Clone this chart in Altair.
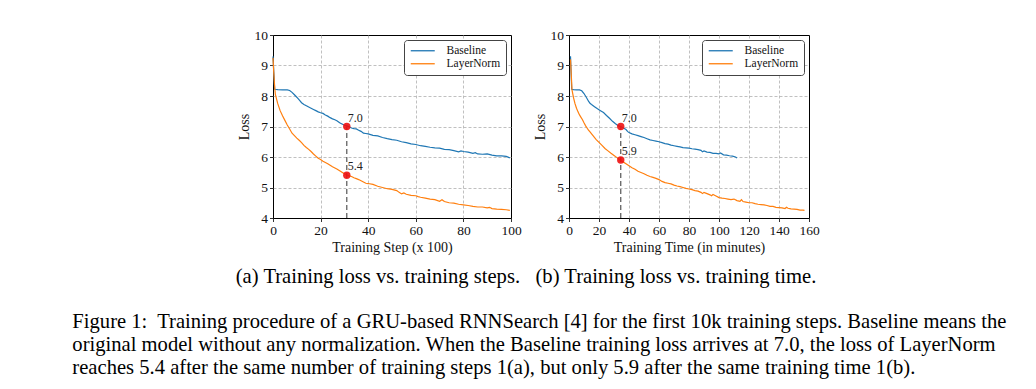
import altair as alt
import pandas as pd

series_names = ["Baseline", "LayerNorm"]
series_colors = ["#1f77b4", "#ff7f0e"]

# (a) loss vs training steps (x 100)
step_base_x = [0, 0.7, 2, 4, 6, 7, 8, 9, 10, 11, 12, 13, 14, 15, 16, 17, 18, 19, 20, 21, 22, 23, 24, 25,
               26, 27, 28, 29, 30, 31, 32, 33, 34, 35, 36, 37, 38, 39, 40, 42, 44, 46, 48, 50, 52, 54, 56,
               58, 60, 62, 64, 66, 68, 70, 72, 74, 76, 78, 79, 80, 82, 84, 85, 86, 88, 90, 92, 94, 96, 98, 99.5]
step_base_y = [9.3, 8.22, 8.21, 8.2, 8.2, 8.18, 8.12, 8.04, 7.96, 7.87, 7.78, 7.72, 7.68, 7.64, 7.60, 7.56,
               7.52, 7.48, 7.45, 7.43, 7.38, 7.34, 7.29, 7.25, 7.22, 7.18, 7.12, 7.08, 7.04, 7.02, 6.99, 6.95,
               6.93, 6.92, 6.88, 6.84, 6.78, 6.77, 6.76, 6.71, 6.69, 6.64, 6.60, 6.57, 6.55, 6.50, 6.47, 6.43,
               6.41, 6.37, 6.35, 6.32, 6.30, 6.29, 6.25, 6.24, 6.21, 6.17, 6.20, 6.18, 6.16, 6.12, 6.14, 6.10,
               6.09, 6.10, 6.06, 6.04, 6.04, 6.02, 5.97]
step_ln_x = [0, 0.3, 0.7, 1, 1.5, 2, 3, 4, 5, 6, 7, 8, 9, 10, 11, 12, 13, 14, 15, 16, 17, 18, 19, 20, 21,
             22, 23, 24, 25, 26, 27, 28, 29, 30, 31, 32, 33, 34, 35, 36, 37, 38, 39, 40, 42, 44, 46, 48, 50,
             52, 53, 54, 55, 56, 58, 60, 61, 62, 64, 66, 68, 70, 71, 72, 74, 76, 78, 80, 82, 84, 86, 88, 90,
             91, 92, 94, 96, 98, 99.5]
step_ln_y = [9.25, 8.8, 8.3, 8.05, 7.9, 7.75, 7.52, 7.35, 7.2, 7.05, 6.92, 6.78, 6.7, 6.62, 6.55, 6.47, 6.38,
             6.31, 6.25, 6.18, 6.1, 6.03, 5.96, 5.92, 5.86, 5.82, 5.78, 5.73, 5.68, 5.64, 5.6, 5.55, 5.5, 5.45,
             5.41, 5.38, 5.36, 5.32, 5.29, 5.26, 5.22, 5.18, 5.14, 5.13, 5.1, 5.04, 5.0, 4.96, 4.94, 4.9, 4.84,
             4.79, 4.82, 4.78, 4.74, 4.73, 4.7, 4.68, 4.65, 4.62, 4.6, 4.55, 4.6, 4.54, 4.5, 4.49, 4.45, 4.43,
             4.41, 4.38, 4.36, 4.36, 4.33, 4.35, 4.31, 4.29, 4.28, 4.27, 4.25]
step_mark_x = 31
step_mark_y = [7.0, 5.4]
step_mark_labels = ["7.0", "5.4"]

# (b) loss vs training time (minutes)
time_base_x = [1, 1.8, 3, 5, 7, 8.5, 10, 11, 12, 13, 14, 15, 17, 19, 21, 23, 25, 27, 29, 31, 33, 34.5, 36,
               38, 39, 40, 42, 44, 46, 48, 50, 52, 54, 56, 58, 60, 62, 64, 66, 68, 70, 72, 74, 76, 78, 80,
               82, 84, 86, 88, 89, 90, 92, 94, 96, 98, 100, 101, 103, 105, 107, 109, 111, 112]
time_base_y = [9.3, 8.22, 8.21, 8.2, 8.2, 8.17, 8.08, 8.0, 7.92, 7.83, 7.76, 7.72, 7.65, 7.58, 7.52, 7.46,
               7.36, 7.27, 7.17, 7.09, 7.02, 7.0, 6.96, 6.9, 6.84, 6.8, 6.76, 6.73, 6.7, 6.67, 6.64, 6.6,
               6.56, 6.54, 6.52, 6.5, 6.47, 6.44, 6.42, 6.39, 6.37, 6.35, 6.33, 6.31, 6.3, 6.29, 6.27, 6.26,
               6.24, 6.22, 6.17, 6.2, 6.16, 6.15, 6.12, 6.12, 6.1, 6.13, 6.07, 6.06, 6.04, 6.03, 6.0, 5.97]
time_ln_x = [1, 1.5, 2, 3, 4, 5, 6, 7, 8, 9, 10, 11, 12, 13, 14, 16, 18, 20, 22, 24, 26, 28, 30, 32, 34,
             36, 38, 40, 42, 44, 46, 48, 50, 52, 54, 56, 58, 60, 62, 64, 66, 68, 70, 72, 74, 76, 78, 80, 82,
             84, 86, 88, 89, 90, 92, 94, 95, 96, 98, 100, 102, 104, 106, 108, 110, 112, 114, 115, 116, 118,
             120, 122, 124, 126, 128, 130, 132, 134, 136, 138, 140, 142, 144, 145, 146, 148, 150, 152, 154,
             156, 157]
time_ln_y = [9.2, 8.7, 8.2, 7.95, 7.75, 7.6, 7.48, 7.38, 7.3, 7.22, 7.12, 7.03, 6.95, 6.88, 6.82, 6.7, 6.58,
             6.48, 6.38, 6.28, 6.2, 6.12, 6.05, 5.98, 5.9, 5.84, 5.78, 5.71, 5.65, 5.6, 5.53, 5.49, 5.45, 5.4,
             5.36, 5.33, 5.3, 5.26, 5.2, 5.16, 5.14, 5.12, 5.08, 5.05, 5.03, 5.0, 4.97, 4.95, 4.93, 4.9, 4.88,
             4.84, 4.8, 4.84, 4.8, 4.76, 4.73, 4.77, 4.72, 4.67, 4.65, 4.64, 4.62, 4.6, 4.62, 4.57, 4.55, 4.6,
             4.54, 4.52, 4.5, 4.5, 4.47, 4.45, 4.44, 4.43, 4.41, 4.38, 4.38, 4.35, 4.34, 4.33, 4.31, 4.35, 4.32,
             4.3, 4.29, 4.28, 4.26, 4.26, 4.25]
time_mark_x = 34.5
time_mark_y = [7.0, 5.9]
time_mark_labels = ["7.0", "5.9"]

y_ticks = [4, 5, 6, 7, 8, 9, 10]
step_ticks = [0, 20, 40, 60, 80, 100]
time_ticks = [0, 20, 40, 60, 80, 100, 120, 140, 160]

caption_ab = "(a) Training loss vs. training steps.\u00a0\u00a0 (b) Training loss vs. training time."
caption_fig = [
    "Figure 1:\u00a0 Training procedure of a GRU-based RNNSearch [4] for the first 10k training steps. Baseline means the",
    "original model without any normalization. When the Baseline training loss arrives at 7.0, the loss of LayerNorm",
    "reaches 5.4 after the same number of training steps 1(a), but only 5.9 after the same training time 1(b).",
]

SERIF = "Liberation Serif"


def panel(bx, by, lx, ly, mx, my, mlabels, xmax, xticks, xtitle, width):
    lines_df = pd.concat([
        pd.DataFrame({"x": bx, "loss": by, "series": series_names[0]}),
        pd.DataFrame({"x": lx, "loss": ly, "series": series_names[1]}),
    ])
    edge_x = f"datum.value == 0 || datum.value == {xmax}"
    xaxis = alt.Axis(values=xticks, title=xtitle, labelOverlap=False, labelFlush=False,
                     gridOpacity={"condition": {"test": edge_x, "value": 0}, "value": 1})
    yaxis = alt.Axis(values=y_ticks, title="Loss", labelOverlap=False, labelFlush=False,
                     gridOpacity={"condition": {"test": "datum.value == 4 || datum.value == 10",
                                                "value": 0}, "value": 1})
    xscale = alt.Scale(domain=[0, xmax], nice=False)
    yscale = alt.Scale(domain=[4, 10], nice=False)

    def X(f):
        return alt.X(f, scale=xscale, axis=xaxis)

    def Y(f):
        return alt.Y(f, scale=yscale, axis=yaxis)

    lines = alt.Chart(lines_df).mark_line(strokeWidth=1.2).encode(
        x=X("x:Q"), y=Y("loss:Q"),
        color=alt.Color("series:N", scale=alt.Scale(domain=series_names, range=series_colors),
                        legend=alt.Legend(title=None, orient="top-right")),
    )
    mark_df = pd.DataFrame({"x": [mx] * len(my), "loss": my, "label": mlabels})
    rule_df = pd.DataFrame({"x": [mx], "lo": [4], "hi": [max(my)]})
    rule = alt.Chart(rule_df).mark_rule(color="#555555", strokeDash=[5, 3], strokeWidth=1.2).encode(
        x=X("x:Q"), y=Y("lo:Q"), y2="hi:Q")
    pts = alt.Chart(mark_df).mark_circle(color="#ee1111", size=55, opacity=0.9).encode(
        x=X("x:Q"), y=Y("loss:Q"))
    txt = alt.Chart(mark_df).mark_text(align="left", baseline="bottom", dx=1, dy=-2, font=SERIF,
                                       fontSize=12, color="#222222").encode(
        x=X("x:Q"), y=Y("loss:Q"), text="label:N")
    return alt.layer(lines, rule, pts, txt).properties(width=width, height=183)


left = panel(step_base_x, step_base_y, step_ln_x, step_ln_y, step_mark_x, step_mark_y, step_mark_labels,
             100, step_ticks, "Training Step (x 100)", 238)
right = panel(time_base_x, time_base_y, time_ln_x, time_ln_y, time_mark_x, time_mark_y, time_mark_labels,
              160, time_ticks, "Training Time (in minutes)", 240)

top = alt.hconcat(left, right, spacing=10).resolve_legend(color="independent").resolve_scale(
    x="independent").properties(
    title=alt.TitleParams(text=caption_ab, orient="bottom", anchor="middle", font=SERIF, fontSize=20.6,
                          fontWeight="normal", color="black", offset=12, dx=-2)
)

chart = alt.vconcat(top).properties(
    title=alt.TitleParams(text=caption_fig, orient="bottom", anchor="start", align="left", dx=-163,
                          font=SERIF, fontSize=20.6, fontWeight="normal", color="black", lineHeight=23,
                          offset=25),
    padding={"left": 64, "top": 19, "right": 5, "bottom": 5},
).configure_view(
    stroke="#000000", strokeWidth=1
).configure_axis(
    grid=True, gridColor="#b0b0b0", gridDash=[3, 2], gridWidth=0.8,
    domain=False, tickColor="#000000", tickSize=3.5, tickWidth=0.8,
    labelFont=SERIF, labelFontSize=13.5, labelColor="#111111", labelPadding=2, labelOverlap=False,
    titleFont=SERIF, titleFontSize=14, titleFontWeight="normal", titleColor="#111111", titlePadding=3,
).configure_legend(
    strokeColor="#444444", fillColor="#ffffff", cornerRadius=3, padding=5, offset=5,
    labelFont=SERIF, labelFontSize=11.5, labelColor="#111111", symbolType="M-1,0H5",
    symbolSize=64, symbolStrokeWidth=1.3, rowPadding=0, labelOffset=26,
)

chart.save("out.html", embed_options={"renderer": "svg", "actions": False})
